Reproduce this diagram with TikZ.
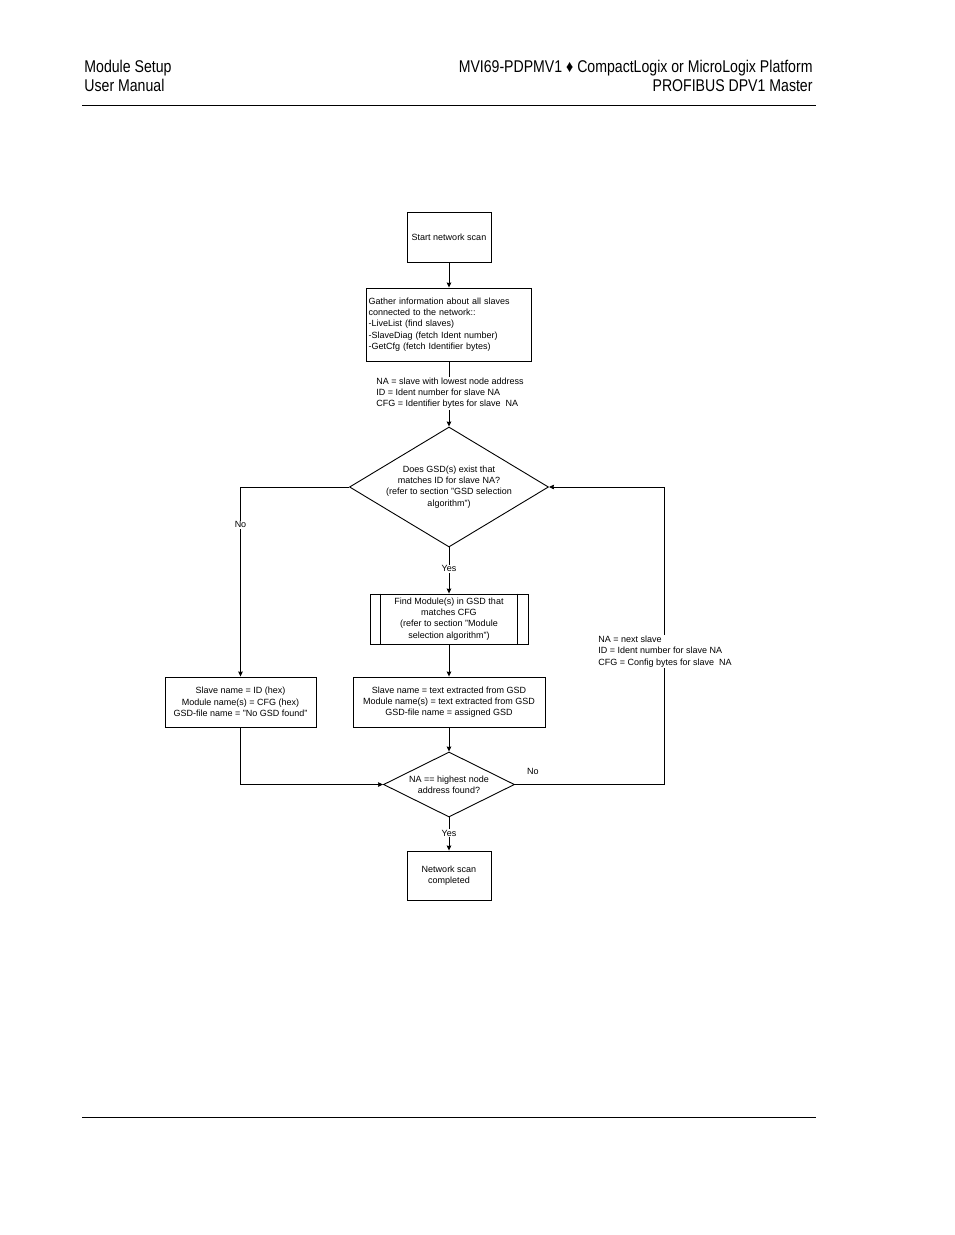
\documentclass[tikz,border=0pt]{standalone}
\usepackage{fontspec}
\setmainfont{Liberation Sans}
\newfontfamily\headfont[FakeStretch=0.83]{Liberation Sans}
\usetikzlibrary{shapes.geometric,arrows.meta}
\tikzset{>={Stealth[length=5pt,width=4.5pt,inset=.5pt]}}
\newcommand{\flowsize}{\fontsize{9}{11.3}\selectfont}
\newcommand{\headsize}{\headfont\fontsize{17}{19}\selectfont}

\begin{document}
\begin{tikzpicture}[x=1pt,y=-1pt,line width=.9pt,
  box/.style={draw,inner sep=2pt,align=center,font=\flowsize},
  decide/.style={draw,shape=diamond,inner sep=0pt,align=center,font=\flowsize},
  note/.style={fill=white,inner sep=1pt,align=left,font=\flowsize},
  tag/.style={fill=white,inner sep=1pt,font=\flowsize}]
\useasboundingbox (0,0) rectangle (954,1235);
\node[anchor=base west,inner sep=0,font=\headsize] (chapter) at (84,72) {Module Setup};
\node[anchor=base west,inner sep=0,font=\headsize] (manual) at (84,91) {User Manual};
\node[anchor=base east,inner sep=0,font=\headsize] (product) at (813,72) {MVI69-PDPMV1 ♦ CompactLogix or MicroLogix Platform};
\node[anchor=base east,inner sep=0,font=\headsize] (master) at (813,91) {PROFIBUS DPV1 Master};
\draw (82,105) -- (816,105);
\draw (82,1117) -- (816,1117);
\node[box,minimum width=84,minimum height=50] (start) at (449,237) {Start network scan};
\node[box,align=left,text width=161,minimum height=73] (gather) at (449,324.5) {Gather information about all slaves\\connected to the network::\\-LiveList (find slaves)\\-SlaveDiag (fetch Ident number)\\-GetCfg (fetch Identifier bytes)};
\node[decide,minimum width=199,minimum height=120,aspect=1.66] (gsd) at (449,487) {Does GSD(s) exist that\\matches ID for slave NA?\\(refer to section "GSD selection\\algorithm")};
\node[box,minimum width=158,minimum height=50] (find) at (449,619) {Find Module(s) in GSD that\\matches CFG\\(refer to section "Module\\selection algorithm")};
\draw ([xshift=11]find.north west) -- ([xshift=11]find.south west);
\draw ([xshift=-11]find.north east) -- ([xshift=-11]find.south east);
\node[box,minimum width=151,minimum height=50] (nogsd) at (240.5,702) {Slave name = ID (hex)\\Module name(s) = CFG (hex)\\GSD-file name = "No GSD found"};
\node[box,minimum width=192,minimum height=50] (assign) at (449,702) {Slave name = text extracted from GSD\\Module name(s) = text extracted from GSD\\GSD-file name = assigned GSD};
\node[decide,minimum width=131,minimum height=65,aspect=2] (last) at (449,784.5) {NA == highest node\\address found?};
\node[box,minimum width=84,minimum height=49] (done) at (449,875.5) {Network scan\\completed};
\coordinate (loop) at (664,784.5);
\draw[->] (start) -- (gather);
\draw[->] (gather) -- (gsd);
\node[note,anchor=west] (first) at (375,393) {NA = slave with lowest node address\\ID = Ident number for slave NA\\CFG = Identifier bytes for slave\ \ NA};
\draw[->] (gsd.west) -| node[tag,pos=.6] {No} (nogsd.north);
\draw[->] (gsd.south) -- node[tag,pos=.46] {Yes} (find.north);
\draw[->] (find) -- (assign);
\draw[->] (nogsd.south) |- (last.west);
\draw[->] (assign) -- (last);
\draw[->] (last.east) -- node[pos=.12,above=9pt,inner sep=0,font=\flowsize] {No} (loop) |- (gsd.east);
\node[note,anchor=west] (next) at (597,651.5) {NA = next slave\\ID = Ident number for slave NA\\CFG = Config bytes for slave\ \ NA};
\draw[->] (last.south) -- node[tag,pos=.47] {Yes} (done.north);
\end{tikzpicture}
\end{document}
